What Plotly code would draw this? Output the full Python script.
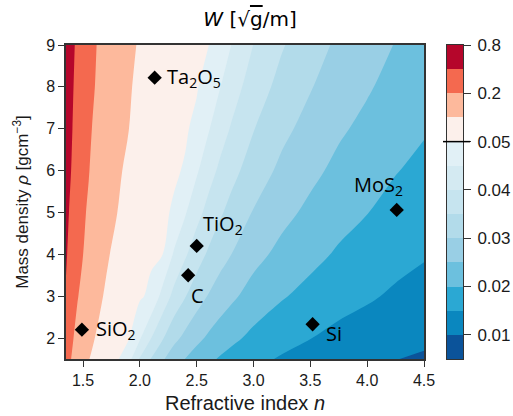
import numpy as np
import plotly.graph_objects as go

# ---------------- data ----------------
n_grid = [1.35, 1.40, 1.45, 1.50, 1.55, 1.60, 1.70, 1.80, 1.90, 2.00, 2.10, 2.20, 2.30,
          2.40, 2.50, 2.60, 2.70, 2.80, 3.00, 3.25, 3.50, 3.75, 4.00, 4.25, 4.50]
rho_grid = [1.5, 2, 3, 4, 5, 6, 7, 8, 9]

# W [sqrt(g)/m] estimated on the (rho, n) grid
W_rho_1_5 = [0.2694, 0.1960, 0.1494, 0.1225, 0.1035, 0.0882, 0.0680, 0.0551, 0.0469, 0.0394, 0.0347, 0.0306, 0.0272,
             0.0249, 0.0228, 0.0211, 0.0196, 0.0184, 0.0163, 0.0145, 0.0131, 0.0119, 0.0110, 0.0101, 0.0094]
W_rho_2 = [0.3111, 0.2263, 0.1725, 0.1414, 0.1195, 0.1018, 0.0785, 0.0636, 0.0542, 0.0455, 0.0400, 0.0354, 0.0314,
           0.0287, 0.0263, 0.0243, 0.0226, 0.0212, 0.0188, 0.0167, 0.0151, 0.0137, 0.0127, 0.0117, 0.0109]
W_rho_3 = [0.3811, 0.2771, 0.2113, 0.1732, 0.1464, 0.1247, 0.0961, 0.0779, 0.0663, 0.0558, 0.0490, 0.0433, 0.0385,
           0.0352, 0.0322, 0.0298, 0.0277, 0.0260, 0.0230, 0.0204, 0.0185, 0.0168, 0.0156, 0.0143, 0.0133]
W_rho_4 = [0.4400, 0.3200, 0.2440, 0.2010, 0.1690, 0.1440, 0.1110, 0.0900, 0.0766, 0.0644, 0.0566, 0.0502, 0.0444,
           0.0406, 0.0372, 0.0344, 0.0320, 0.0301, 0.0266, 0.0236, 0.0214, 0.0194, 0.0180, 0.0165, 0.0154]
W_rho_5 = [0.4919, 0.3578, 0.2728, 0.2236, 0.1889, 0.1610, 0.1241, 0.1006, 0.0856, 0.0720, 0.0633, 0.0559, 0.0496,
           0.0454, 0.0416, 0.0385, 0.0358, 0.0335, 0.0297, 0.0264, 0.0239, 0.0217, 0.0201, 0.0185, 0.0172]
W_rho_6 = [0.5389, 0.3919, 0.2988, 0.2449, 0.2070, 0.1764, 0.1359, 0.1102, 0.0938, 0.0789, 0.0693, 0.0612, 0.0544,
           0.0497, 0.0456, 0.0421, 0.0392, 0.0367, 0.0326, 0.0289, 0.0262, 0.0238, 0.0220, 0.0202, 0.0189]
W_rho_7 = [0.5821, 0.4233, 0.3228, 0.2646, 0.2236, 0.1905, 0.1468, 0.1191, 0.1013, 0.0852, 0.0749, 0.0661, 0.0587,
           0.0537, 0.0492, 0.0455, 0.0423, 0.0397, 0.0352, 0.0312, 0.0283, 0.0257, 0.0238, 0.0219, 0.0204]
W_rho_8 = [0.6222, 0.4525, 0.3451, 0.2828, 0.2390, 0.2036, 0.1570, 0.1273, 0.1083, 0.0911, 0.0800, 0.0707, 0.0628,
           0.0574, 0.0526, 0.0486, 0.0453, 0.0424, 0.0376, 0.0334, 0.0303, 0.0274, 0.0255, 0.0234, 0.0218]
W_rho_9 = [0.6600, 0.4800, 0.3660, 0.3000, 0.2535, 0.2160, 0.1665, 0.1350, 0.1149, 0.0966, 0.0849, 0.0750, 0.0666,
           0.0609, 0.0558, 0.0516, 0.0480, 0.0451, 0.0399, 0.0354, 0.0321, 0.0291, 0.0270, 0.0248, 0.0231]

# contour levels (non-uniform), and colorbar tick labels
levels = [0.005, 0.01, 0.015, 0.02, 0.025, 0.03, 0.035, 0.04, 0.045, 0.05, 0.1, 0.2, 0.4, 0.8]
cbar_tick_values = [0.01, 0.02, 0.03, 0.04, 0.05, 0.2, 0.8]
cbar_tick_text = ["0.01", "0.02", "0.03", "0.04", "0.05", "0.2", "0.8"]

# materials
mat_names = ["Ta<sub>2</sub>O<sub>5</sub>", "SiO<sub>2</sub>", "C", "TiO<sub>2</sub>", "Si", "MoS<sub>2</sub>"]
mat_n = [2.13, 1.49, 2.425, 2.50, 3.52, 4.26]
mat_rho = [8.22, 2.20, 3.50, 4.20, 2.33, 5.06]

# ---------------- styles ----------------
band_colors = ["#0b539a", "#0a87bf", "#2ba8d3", "#6cc0de", "#99cfe5", "#b2dbea", "#c6e4ef",
               "#d4eaf2", "#e1f0f6", "#fcf0eb", "#fdb99c", "#f4694f", "#b5062b"]
# label placement: (xanchor, xshift, yshift)
label_pos = [("left", 10, 0), ("left", 12, 0), ("center", 9, -20), ("center", 26, 21),
             ("left", 11, -9), ("center", -18, 24)]

axis_col = "#333333"
tick_font = dict(family="Liberation Sans, Arial, sans-serif", size=16, color="#1a1a1a")

# ---------------- build ----------------
W = np.array([W_rho_1_5, W_rho_2, W_rho_3, W_rho_4, W_rho_5, W_rho_6, W_rho_7, W_rho_8, W_rho_9])
level_index = np.arange(len(levels))
Z = np.interp(W, levels, level_index)  # position in the (non-uniform) level sequence
nb = len(band_colors)  # 13 bands
nlev = nb + 1          # 14 levels

# plotly fill: band k sampled at colorscale position (k+1)/14
cs_contour = [[0.0, band_colors[0]]]
for k, c in enumerate(band_colors):
    cs_contour.append([(k + 1) / nlev, c])
cs_contour.append([1.0, band_colors[-1]])

cs_heat = [[k / (nb - 1), c] for k, c in enumerate(band_colors)]

fig = go.Figure()
fig.add_trace(go.Contour(
    x=n_grid, y=rho_grid, z=Z,
    autocontour=False,
    contours=dict(start=0, end=nb, size=1, coloring="fill", showlines=False),
    colorscale=cs_contour, showscale=False, line=dict(width=0),
    hoverinfo="skip",
))

fig.add_trace(go.Scatter(
    x=mat_n, y=mat_rho, mode="markers",
    marker=dict(symbol="diamond", size=11, color="black", line=dict(width=0)),
    showlegend=False, hoverinfo="skip",
))

# colorbar drawn as a heatmap on its own axes
fig.add_trace(go.Heatmap(
    x=[0], y=[k + 0.5 for k in range(nb)], z=[[k] for k in range(nb)],
    colorscale=cs_heat, zmin=0, zmax=nb - 1, showscale=False,
    xaxis="x2", yaxis="y2", hoverinfo="skip",
))

cbar_tick_pos = [float(np.interp(v, levels, level_index)) for v in cbar_tick_values]

annotations = []
for name, xv, yv, (xa, xs, ys) in zip(mat_names, mat_n, mat_rho, label_pos):
    annotations.append(dict(
        x=xv, y=yv, xref="x", yref="y", text=name, showarrow=False,
        xanchor=xa, yanchor="middle", xshift=xs, yshift=ys,
        font=dict(family="Open Sans, DejaVu Sans, sans-serif", size=20, color="black"),
    ))

L, R, T, B = 66, 45, 45, 57
PW = 513 - L - R
def px2paper(px):
    return (px - L) / PW

fig.update_layout(
    width=513, height=416,
    margin=dict(l=L, r=R, t=T, b=B, pad=0, autoexpand=False),
    paper_bgcolor="white", plot_bgcolor="white",
    showlegend=False,
    title=dict(
        text="<i>W</i> [√<span style='text-decoration:overline'>g</span>/m]",
        x=px2paper(250), xref="paper", xanchor="center",
        y=1 - 19 / 416, yref="container", yanchor="middle",
        font=dict(family="DejaVu Sans, sans-serif", size=20, color="black"),
    ),
    xaxis=dict(
        domain=[0, px2paper(424)], range=[1.35, 4.5], automargin=False,
        tickvals=[1.5, 2.0, 2.5, 3.0, 3.5, 4.0, 4.5], tickformat=".1f",
        ticks="outside", ticklen=6, tickwidth=1, tickcolor=axis_col,
        showline=True, mirror=True, linecolor=axis_col, linewidth=1.5,
        showgrid=False, zeroline=False, tickfont=tick_font,
        title=dict(text="Refractive index <i>n</i>", standoff=8,
                   font=dict(family="Liberation Sans, Arial, sans-serif", size=20, color="#1a1a1a")),
    ),
    yaxis=dict(
        domain=[0, 1], range=[1.5, 9], tickvals=[2, 3, 4, 5, 6, 7, 8, 9], automargin=False,
        ticks="outside", ticklen=6, tickwidth=1, tickcolor=axis_col,
        showline=True, mirror=True, linecolor=axis_col, linewidth=1.5,
        showgrid=False, zeroline=False, tickfont=tick_font,
        title=dict(text="Mass density <i>ρ</i> [gcm<sup>−3</sup>]", standoff=13,
                   font=dict(family="Liberation Sans, Arial, sans-serif", size=17, color="#1a1a1a")),
    ),
    xaxis2=dict(
        domain=[px2paper(447), px2paper(463)], range=[-0.5, 0.5], anchor="y2", automargin=False,
        showticklabels=False, ticks="", showline=True, mirror=True,
        linecolor=axis_col, linewidth=1, showgrid=False, zeroline=False,
    ),
    yaxis2=dict(
        domain=[0, 1], range=[0, nb], anchor="x2", side="right", automargin=False,
        tickvals=cbar_tick_pos, ticktext=cbar_tick_text,
        ticks="outside", ticklen=7, tickwidth=1, tickcolor=axis_col,
        ticklabelstandoff=3,
        showline=True, mirror=True, linecolor=axis_col, linewidth=1,
        showgrid=False, zeroline=False,
        tickfont=dict(family="Liberation Sans, Arial, sans-serif", size=17, color="#1a1a1a"),
    ),
    annotations=annotations,
    shapes=[dict(type="line", xref="paper", yref="y2",
                 x0=px2paper(443), x1=px2paper(470),
                 y0=float(np.interp(0.05, levels, level_index)),
                 y1=float(np.interp(0.05, levels, level_index)),
                 line=dict(color="black", width=1.5))],
)

fig.write_html("out.html")
